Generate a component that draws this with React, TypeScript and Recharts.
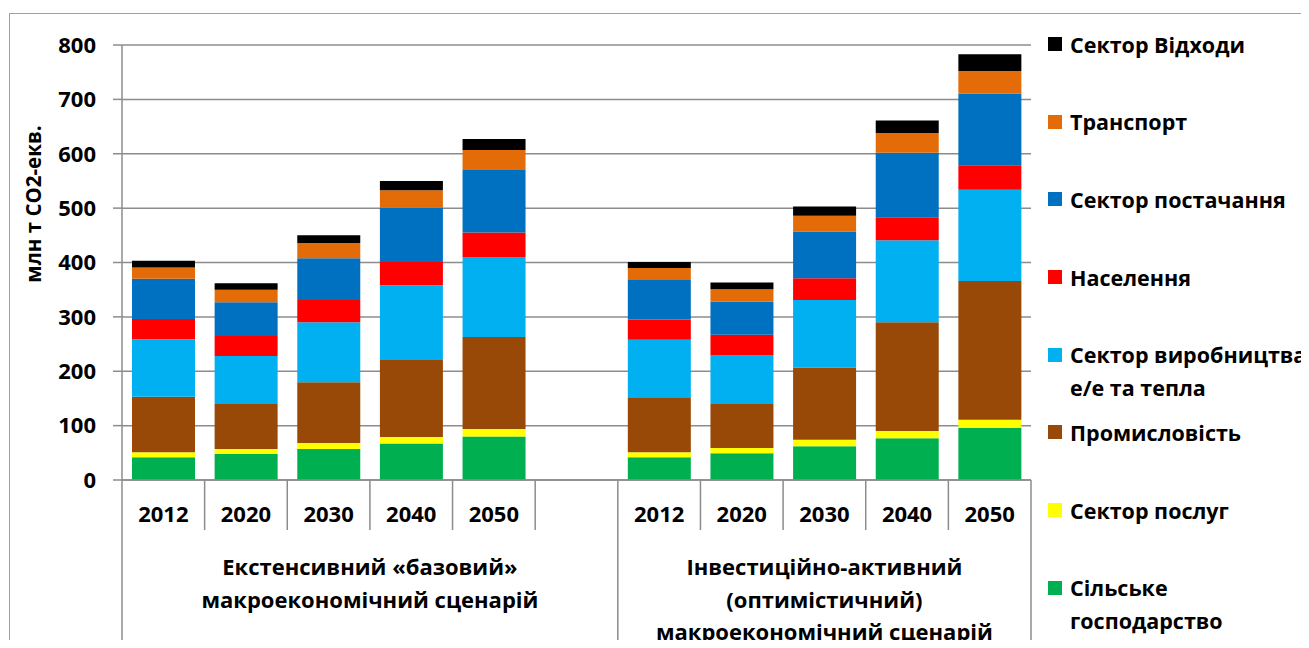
import { Bar, BarChart, CartesianGrid, Legend, XAxis, YAxis } from "recharts";

// slots along the axis: 5 years, an empty slot, then 5 years
const years = ["2012", "2020", "2030", "2040", "2050", "", "2012", "2020", "2030", "2040", "2050"];
const scenarioOf = [0, 0, 0, 0, 0, 0, 1, 1, 1, 1, 1];
const scenarios = [
  ["Екстенсивний «базовий»", "макроекономічний сценарій"],
  ["Інвестиційно-активний", "(оптимістичний)", "макроекономічний сценарій"],
];

// млн т CO2-екв., bottom to top of each stack
const agriculture = [42, 48, 57, 67, 80, null, 42, 49, 62, 77, 96];
const services = [9, 9, 11, 12, 14, null, 9, 10, 12, 13, 15];
const industry = [102, 83, 112, 143, 169, null, 101, 82, 133, 200, 255];
const power = [106, 88, 110, 136, 146, null, 106, 88, 124, 151, 168];
const households = [37, 37, 41, 43, 46, null, 37, 38, 40, 42, 45];
const supply = [74, 62, 77, 100, 115, null, 74, 61, 86, 119, 132];
const transport = [21, 23, 28, 32, 37, null, 21, 23, 29, 36, 41];
const waste = [12, 12, 14, 17, 20, null, 11, 12, 17, 23, 31];

const seriesValues = [agriculture, services, industry, power, households, supply, transport, waste];
const seriesNames = [
  "Сільське\nгосподарство",
  "Сектор послуг",
  "Промисловість",
  "Сектор виробництва\nе/е та тепла",
  "Населення",
  "Сектор постачання",
  "Транспорт",
  "Сектор Відходи",
];
const seriesColors = ["#00B050", "#FFFF00", "#984807", "#00B0F0", "#FF0000", "#0070C0", "#E36C09", "#000000"];

const yTicks = [0, 100, 200, 300, 400, 500, 600, 700, 800];

const rows = years.map((year, i) => {
  const row: Record<string, string | number | null> = { slot: `s${i}`, year };
  seriesValues.forEach((vals, k) => {
    row[`v${k}`] = vals[i];
  });
  return row;
});

const FONT = "'Open Sans', sans-serif";
const LINE = "#8c8c8c";

function YearTick(props: any) {
  const { x, y, payload, index } = props;
  const half = payload?.offset || 41.3;
  const left = x - half;
  const group = scenarioOf[index];
  const firstOfGroup = index === 0 || scenarioOf[index - 1] !== group;
  const isLast = index === years.length - 1;
  const span = scenarioOf.filter((s) => s === group).length;
  const lines = scenarios[group];
  const cx = left + span * half;
  return (
    <g fontFamily={FONT} fontWeight={700} fontSize={22} fill="#000">
      <line x1={left} x2={left} y1={y} y2={y + (firstOfGroup ? 200 : 50)} stroke={LINE} strokeWidth={1.5} />
      {isLast && <line x1={x + half} x2={x + half} y1={y} y2={y + 200} stroke={LINE} strokeWidth={1.5} />}
      <text x={x} y={y + 33} textAnchor="middle" dominantBaseline="central">
        {years[index]}
      </text>
      {firstOfGroup &&
        lines.map((line, j) => (
          <text key={j} x={cx} y={y + 86 + j * 32.5} textAnchor="middle" dominantBaseline="central">
            {line}
          </text>
        ))}
    </g>
  );
}

function LegendList() {
  const order = seriesNames.map((_, k) => k).reverse();
  return (
    <div style={{ display: "flex", flexDirection: "column", fontFamily: FONT }}>
      {order.map((k) => (
        <div key={k} style={{ height: 77.7, display: "flex", alignItems: "flex-start", gap: 8 }}>
          <span style={{ width: 14, height: 14, marginTop: 9.5, background: seriesColors[k], flex: "none" }} />
          <span style={{ whiteSpace: "pre-line", lineHeight: "33px", fontSize: 21.5, fontWeight: 700, color: "#000" }}>
            {seriesNames[k]}
          </span>
        </div>
      ))}
    </div>
  );
}

export default function App() {
  return (
    <div style={{ position: "relative", width: 1301, height: 640, marginBottom: -8, overflow: "hidden" }}>
      <div
        style={{
          position: "absolute",
          left: 1,
          top: 5,
          width: 1400,
          height: 700,
          border: "1.5px solid #a0a0a0",
        }}
      />
      <BarChart width={1301} height={640} data={rows} margin={{ top: 37, right: 278, bottom: 0, left: 0 }} barSize={63}>
        <CartesianGrid vertical={false} stroke={LINE} strokeWidth={1.5} />
        <YAxis
          width={114}
          domain={[0, 800]}
          ticks={yTicks}
          interval={0}
          tickSize={9}
          tickMargin={17}
          axisLine={{ stroke: LINE, strokeWidth: 1.5 }}
          tickLine={{ stroke: LINE, strokeWidth: 1.5 }}
          tick={{ fontFamily: FONT, fontWeight: 700, fontSize: 22, fill: "#000" }}
          label={{
            content: () => (
              <text
                transform="translate(25,196) rotate(-90)"
                textAnchor="middle"
                dominantBaseline="central"
                fontFamily={FONT}
                fontWeight={700}
                fontSize={20.5}
                fill="#000"
              >
                млн т CO2-екв.
              </text>
            ),
          }}
        />
        <XAxis
          dataKey="slot"
          height={168}
          interval={0}
          tickLine={false}
          tickSize={0}
          tickMargin={0}
          axisLine={{ stroke: LINE, strokeWidth: 1.5 }}
          tick={<YearTick />}
        />
        <Legend
          layout="vertical"
          align="center"
          verticalAlign="middle"
          wrapperStyle={{ left: 1040, top: 19.5, width: 261 }}
          content={() => <LegendList />}
        />
        {seriesNames.map((name, k) => (
          <Bar
            key={name}
            dataKey={`v${k}`}
            name={name}
            stackId="total"
            fill={seriesColors[k]}
            isAnimationActive={false}
          />
        ))}
      </BarChart>
    </div>
  );
}
